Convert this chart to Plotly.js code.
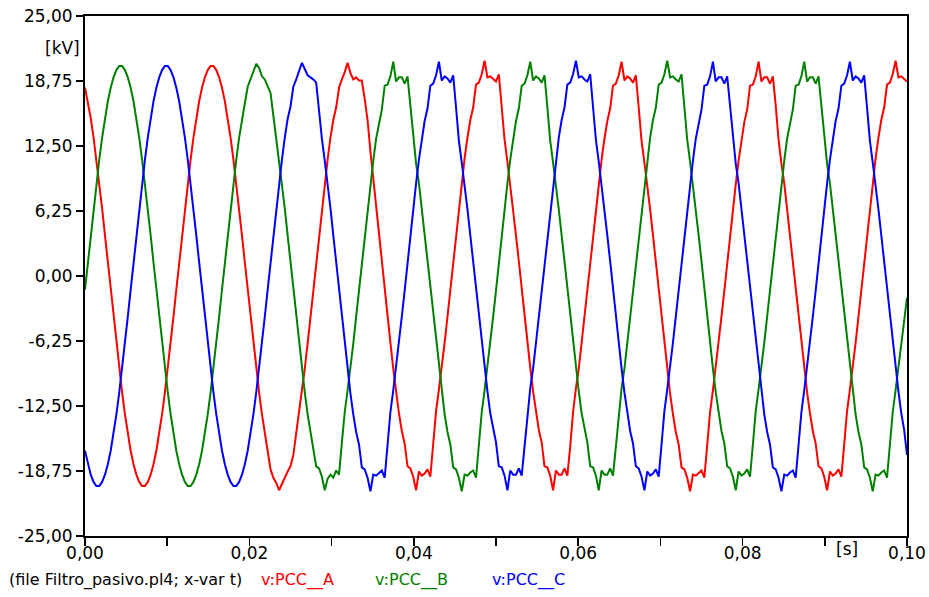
<!DOCTYPE html>
<html>
<head>
<meta charset="utf-8">
<script src="https://cdn.plot.ly/plotly-3.0.1.min.js"></script>
<style>
  html, body { margin: 0; padding: 0; background: #ffffff; }
  #chart { width: 929px; height: 597px; }
</style>
</head>
<body>
<div id="chart"></div>
<script>
// ---- Data (ATP plot, file Filtro_pasivo.pl4) ----
// Samples are taken every 1/2880 s (7.5 electrical degrees at 60 Hz), from t = 0 to t = 0.1 s.
const sampleStart = 0;
const sampleStep = 1 / 2880;

const seriesNames = ["v:PCC__A", "v:PCC__B", "v:PCC__C"];

// v:PCC__A [kV]
const vPccA = [
  18.1, 16.8, 15.2, 13.3, 11.2, 8.9, 6.5, 3.9, 1.3,
  -1.3, -3.9, -6.5, -8.9, -11.2, -13.3, -15.2, -16.8, -18.1, -19.1, -19.8, -20.2, -20.2, -19.8, -19.1, -18.1, -16.8, -15.2, -13.3, -11.2, -8.9, -6.5, -3.9, -1.3,
  1.3, 3.9, 6.5, 8.9, 11.2, 13.3, 15.2, 16.8, 18.1, 19.1, 19.8, 20.2, 20.2, 19.8, 19.1, 18.1, 16.8, 15.2, 13.3, 11.2, 8.9, 6.5, 3.9, 1.3,
  -1.3, -3.9, -6.5, -8.9, -11.2, -13.3, -15.2, -16.8, -18.6, -19.4, -19.9, -20.6, -20.0, -19.3, -18.8, -18.3, -17.2, -15.1, -13.2, -11.1, -8.9, -6.5, -3.9, -1.3,
  1.3, 3.9, 6.5, 8.9, 11.2, 13.3, 15.0, 16.2, 18.1, 18.9, 19.6, 20.5, 19.5, 18.9, 19.1, 18.8, 18.8, 17.0, 15.0, 12.0, 9.3, 6.6, 3.9, 1.3,
  -1.3, -3.9, -6.4, -8.9, -11.2, -13.2, -14.9, -16.1, -18.3, -18.5, -19.3, -20.6, -18.8, -19.2, -19.0, -18.6, -19.3, -16.2, -13.0, -10.9, -8.8, -6.4, -3.9, -1.3,
  1.2, 3.8, 6.4, 8.9, 11.3, 13.3, 15.0, 16.2, 18.4, 18.6, 19.4, 20.7, 19.1, 19.2, 18.9, 18.7, 19.4, 16.0, 13.1, 11.0, 8.8, 6.5, 3.9, 1.4,
  -1.3, -3.9, -6.5, -8.8, -11.1, -13.2, -14.8, -16.0, -18.3, -18.4, -19.2, -20.6, -18.7, -19.1, -19.1, -18.5, -19.2, -16.4, -13.1, -10.8, -8.9, -6.4, -3.8, -1.3,
  1.3, 3.9, 6.4, 8.9, 11.2, 13.2, 14.9, 16.1, 18.3, 18.5, 19.3, 20.6, 18.8, 19.2, 19.0, 18.6, 19.3, 16.2, 13.0, 10.9, 8.8, 6.4, 3.9, 1.3,
  -1.2, -3.8, -6.4, -8.9, -11.3, -13.3, -15.0, -16.2, -18.4, -18.6, -19.4, -20.7, -19.1, -19.2, -18.9, -18.7, -19.4, -16.0, -13.1, -11.0, -8.8, -6.5, -3.9, -1.4,
  1.3, 3.9, 6.5, 8.8, 11.1, 13.2, 14.8, 16.0, 18.3, 18.4, 19.2, 20.6, 18.7, 19.1, 19.1, 18.5, 19.2, 16.4, 13.1, 10.8, 8.9, 6.4, 3.8, 1.3,
  -1.3, -3.9, -6.4, -8.9, -11.2, -13.2, -14.9, -16.1, -18.3, -18.5, -19.3, -20.6, -18.8, -19.2, -19.0, -18.6, -19.3, -16.2, -13.0, -10.9, -8.8, -6.4, -3.9, -1.3,
  1.2, 3.8, 6.4, 8.9, 11.3, 13.3, 15.0, 16.2, 18.4, 18.6, 19.4, 20.7, 19.1, 19.2, 18.9, 18.7
];

// v:PCC__B [kV]
const vPccB = [
  -1.3,
  1.3, 3.9, 6.5, 8.9, 11.2, 13.3, 15.2, 16.8, 18.1, 19.1, 19.8, 20.2, 20.2, 19.8, 19.1, 18.1, 16.8, 15.2, 13.3, 11.2, 8.9, 6.5, 3.9, 1.3,
  -1.3, -3.9, -6.5, -8.9, -11.2, -13.3, -15.2, -16.8, -18.1, -19.1, -19.8, -20.2, -20.2, -19.8, -19.1, -18.1, -16.8, -15.2, -13.3, -11.2, -8.9, -6.5, -3.9, -1.3,
  1.3, 3.9, 6.5, 8.9, 11.2, 13.3, 15.1, 16.6, 18.2, 18.9, 19.6, 20.4, 20.0, 19.2, 18.9, 18.3, 17.6, 15.4, 13.2, 11.1, 8.9, 6.5, 3.9, 1.3,
  -1.3, -3.9, -6.5, -8.9, -11.2, -13.3, -15.0, -16.3, -18.3, -18.5, -19.3, -20.6, -19.5, -19.1, -19.4, -18.7, -19.1, -16.0, -13.1, -11.0, -8.9, -6.5, -3.9, -1.3,
  1.3, 3.9, 6.5, 8.8, 11.1, 13.2, 14.8, 16.0, 18.3, 18.4, 19.2, 20.6, 18.7, 19.1, 19.1, 18.5, 19.2, 16.4, 13.1, 10.8, 8.9, 6.4, 3.8, 1.3,
  -1.2, -3.8, -6.4, -8.9, -11.3, -13.3, -15.0, -16.2, -18.4, -18.6, -19.4, -20.7, -19.1, -19.2, -18.9, -18.7, -19.4, -16.0, -13.1, -11.0, -8.8, -6.5, -3.9, -1.4,
  1.3, 3.9, 6.4, 8.9, 11.2, 13.2, 14.9, 16.1, 18.3, 18.5, 19.3, 20.6, 18.8, 19.2, 19.0, 18.6, 19.3, 16.2, 13.0, 10.9, 8.8, 6.4, 3.9, 1.3,
  -1.3, -3.9, -6.5, -8.8, -11.1, -13.2, -14.8, -16.0, -18.3, -18.4, -19.2, -20.6, -18.7, -19.1, -19.1, -18.5, -19.2, -16.4, -13.1, -10.8, -8.9, -6.4, -3.8, -1.3,
  1.2, 3.8, 6.4, 8.9, 11.3, 13.3, 15.0, 16.2, 18.4, 18.6, 19.4, 20.7, 19.1, 19.2, 18.9, 18.7, 19.4, 16.0, 13.1, 11.0, 8.8, 6.5, 3.9, 1.4,
  -1.3, -3.9, -6.4, -8.9, -11.2, -13.2, -14.9, -16.1, -18.3, -18.5, -19.3, -20.6, -18.8, -19.2, -19.0, -18.6, -19.3, -16.2, -13.0, -10.9, -8.8, -6.4, -3.9, -1.3,
  1.3, 3.9, 6.5, 8.8, 11.1, 13.2, 14.8, 16.0, 18.3, 18.4, 19.2, 20.6, 18.7, 19.1, 19.1, 18.5, 19.2, 16.4, 13.1, 10.8, 8.9, 6.4, 3.8, 1.3,
  -1.2, -3.8, -6.4, -8.9, -11.3, -13.3, -15.0, -16.2, -18.4, -18.6, -19.4, -20.7, -19.1, -19.2, -18.9, -18.7, -19.4, -16.0, -13.1, -11.0, -8.8, -6.5, -3.9, -2.1
];

// v:PCC__C [kV]
const vPccC = [
  -16.8, -18.1, -19.1, -19.8, -20.2, -20.2, -19.8, -19.1, -18.1, -16.8, -15.2, -13.3, -11.2, -8.9, -6.5, -3.9, -1.3,
  1.3, 3.9, 6.5, 8.9, 11.2, 13.3, 15.2, 16.8, 18.1, 19.1, 19.8, 20.2, 20.2, 19.8, 19.1, 18.1, 16.8, 15.2, 13.3, 11.2, 8.9, 6.5, 3.9, 1.3,
  -1.3, -3.9, -6.5, -8.9, -11.2, -13.3, -15.2, -16.8, -18.1, -19.1, -19.8, -20.2, -20.2, -19.8, -19.1, -18.1, -16.8, -15.2, -13.3, -11.2, -8.9, -6.5, -3.9, -1.3,
  1.3, 3.9, 6.5, 8.9, 11.2, 13.3, 15.1, 16.3, 18.2, 18.9, 19.6, 20.5, 19.9, 19.3, 19.1, 18.9, 18.6, 15.8, 13.2, 11.1, 8.9, 6.5, 3.9, 1.3,
  -1.2, -3.8, -6.4, -8.9, -11.3, -13.3, -15.0, -16.2, -18.4, -18.6, -19.4, -20.7, -19.1, -19.2, -18.9, -18.7, -19.4, -16.0, -13.1, -11.0, -8.8, -6.5, -3.9, -1.4,
  1.3, 3.9, 6.4, 8.9, 11.2, 13.2, 14.9, 16.1, 18.3, 18.5, 19.3, 20.6, 18.8, 19.2, 19.0, 18.6, 19.3, 16.2, 13.0, 10.9, 8.8, 6.4, 3.9, 1.3,
  -1.3, -3.9, -6.5, -8.8, -11.1, -13.2, -14.8, -16.0, -18.3, -18.4, -19.2, -20.6, -18.7, -19.1, -19.1, -18.5, -19.2, -16.4, -13.1, -10.8, -8.9, -6.4, -3.8, -1.3,
  1.2, 3.8, 6.4, 8.9, 11.3, 13.3, 15.0, 16.2, 18.4, 18.6, 19.4, 20.7, 19.1, 19.2, 18.9, 18.7, 19.4, 16.0, 13.1, 11.0, 8.8, 6.5, 3.9, 1.4,
  -1.3, -3.9, -6.4, -8.9, -11.2, -13.2, -14.9, -16.1, -18.3, -18.5, -19.3, -20.6, -18.8, -19.2, -19.0, -18.6, -19.3, -16.2, -13.0, -10.9, -8.8, -6.4, -3.9, -1.3,
  1.3, 3.9, 6.5, 8.8, 11.1, 13.2, 14.8, 16.0, 18.3, 18.4, 19.2, 20.6, 18.7, 19.1, 19.1, 18.5, 19.2, 16.4, 13.1, 10.8, 8.9, 6.4, 3.8, 1.3,
  -1.2, -3.8, -6.4, -8.9, -11.3, -13.3, -15.0, -16.2, -18.4, -18.6, -19.4, -20.7, -19.1, -19.2, -18.9, -18.7, -19.4, -16.0, -13.1, -11.0, -8.8, -6.5, -3.9, -1.4,
  1.3, 3.9, 6.4, 8.9, 11.2, 13.2, 14.9, 16.1, 18.3, 18.5, 19.3, 20.6, 18.8, 19.2, 19.0, 18.6, 19.3, 16.2, 13.0, 10.9, 8.8, 6.4, 3.9, 1.3,
  -1.3, -3.9, -6.5, -8.8, -11.1, -13.2, -14.8, -17.2
];

// Axis ticks
const xTickVals = [0, 0.01, 0.02, 0.03, 0.04, 0.05, 0.06, 0.07, 0.08, 0.09, 0.10];
const xTickText = ["0,00", "", "0,02", "", "0,04", "", "0,06", "", "0,08", "", "0,10"];
const yTickVals = [-25, -18.75, -12.5, -6.25, 0, 6.25, 12.5, 18.75, 25];
const yTickText = ["-25,00", "-18,75", "-12,50", "-6,25", "0,00", "6,25", "12,50", "18,75", "25,00"];

const xUnit = "[s]";
const yUnit = "[kV]";
const fileCaption = "(file Filtro_pasivo.pl4; x-var t)";

// ---- Styling ----
const colors = ["#ff0000", "#008000", "#0000ff"];
const FONT = "DejaVu Sans, Liberation Sans, Arial, sans-serif";

const seriesValues = [vPccA, vPccB, vPccC];
const traces = seriesValues.map((vals, i) => ({
  type: "scatter",
  mode: "lines",
  name: seriesNames[i],
  x0: sampleStart,
  dx: sampleStep,
  y: vals,
  line: { color: colors[i], width: 2 },
  hoverinfo: "skip"
}));

// plot area in pixels: left 85, right 907, top 16, bottom 536
const L = 85, R = 907, T = 16, B = 536;
const px = (x) => (x - L) / (R - L);
const py = (y) => (B - y) / (B - T);

const axisCommon = {
  showgrid: false,
  zeroline: false,
  showline: true,
  mirror: true,
  linecolor: "#000000",
  linewidth: 2,
  ticks: "outside",
  tickcolor: "#000000",
  tickwidth: 1.5,
  tickfont: { family: FONT, size: 17, color: "#000000" },
  fixedrange: true
};

const layout = {
  width: 929,
  height: 597,
  paper_bgcolor: "#ffffff",
  plot_bgcolor: "#ffffff",
  showlegend: false,
  margin: { l: L, r: 929 - R, t: T, b: 597 - B, pad: 0 },
  xaxis: Object.assign({}, axisCommon, {
    range: [0, 0.1],
    tickmode: "array",
    tickvals: xTickVals,
    ticktext: xTickText,
    ticklen: 8,
    ticklabelstandoff: -7
  }),
  yaxis: Object.assign({}, axisCommon, {
    range: [-25, 25],
    tickmode: "array",
    tickvals: yTickVals,
    ticktext: yTickText,
    ticklen: 7
  }),
  annotations: [
    { text: yUnit, xref: "paper", yref: "paper", x: px(62), y: py(48), xanchor: "center", yanchor: "middle",
      showarrow: false, font: { family: FONT, size: 17, color: "#000000" } },
    { text: xUnit, xref: "paper", yref: "paper", x: px(847), y: py(549), xanchor: "center", yanchor: "middle",
      showarrow: false, font: { family: FONT, size: 17, color: "#000000" } },
    { text: fileCaption, xref: "paper", yref: "paper", x: px(7), y: py(580), xanchor: "left", yanchor: "middle",
      showarrow: false, font: { family: FONT, size: 16, color: "#000000" } },
    { text: seriesNames[0], xref: "paper", yref: "paper", x: px(259), y: py(580), xanchor: "left", yanchor: "middle",
      showarrow: false, font: { family: FONT, size: 16, color: colors[0] } },
    { text: seriesNames[1], xref: "paper", yref: "paper", x: px(373), y: py(580), xanchor: "left", yanchor: "middle",
      showarrow: false, font: { family: FONT, size: 16, color: colors[1] } },
    { text: seriesNames[2], xref: "paper", yref: "paper", x: px(490), y: py(580), xanchor: "left", yanchor: "middle",
      showarrow: false, font: { family: FONT, size: 16, color: colors[2] } }
  ]
};

Plotly.newPlot("chart", traces, layout, { staticPlot: true, displayModeBar: false });
</script>
</body>
</html>
